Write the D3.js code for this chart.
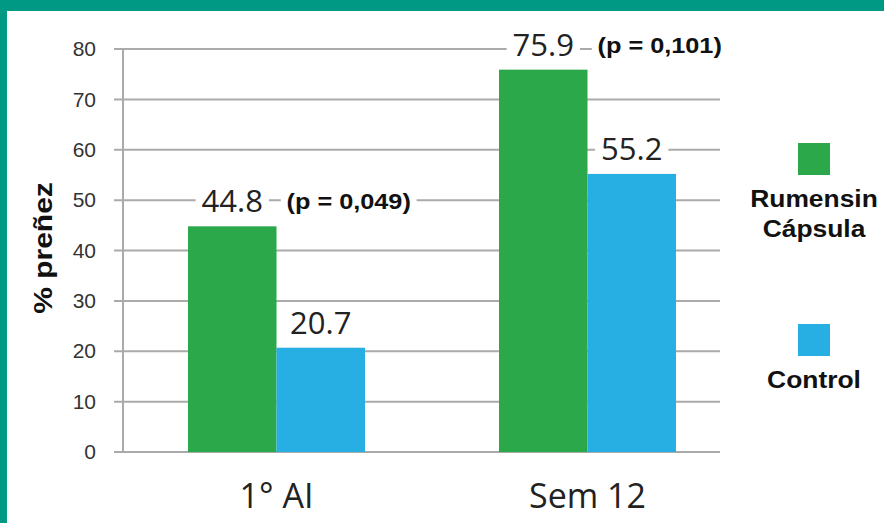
<!DOCTYPE html>
<html>
<head>
<meta charset="utf-8">
<script src="https://cdn.jsdelivr.net/npm/d3@7"></script>
<style>
  body { margin: 0; background: #fff; }
</style>
</head>
<body>
<div id="root"></div>
<script>
// datos
let groups = ["1° AI", "Sem 12"];
let seriesNames = ["Rumensin Cápsula", "Control"];
let rumensin = [44.8, 75.9];
let control = [20.7, 55.2];
let pValues = ["(p = 0,049)", "(p = 0,101)"];
let yTicks = [0, 10, 20, 30, 40, 50, 60, 70, 80];

let colors = ["#2aa84a", "#27aee3"];

let init = () => {
  let W = 884, H = 523;
  let svg = d3.select("#root").append("svg").attr("width", W).attr("height", H);

  // marco
  svg.append("rect").attr("width", W).attr("height", H).attr("fill", "#009a84");
  svg.append("rect").attr("x", 7).attr("y", 11).attr("width", W - 7).attr("height", H - 11).attr("fill", "#fff");

  let y = d3.scaleLinear().domain([0, 80]).range([452, 49]);
  let x0 = d3.scaleBand().domain(groups).range([123, 745]);
  let x1 = d3.scaleBand().domain(seriesNames).range([0, 177]);
  let groupOffset = 65;

  // texto estirado horizontalmente (como en la imagen original)
  let stretched = (parent, x, yPos, txt, size, sx, opts = {}) => {
    let g = parent.append("g").attr("transform", `translate(${x},${yPos}) scale(${sx},1)`);
    let t = g.append("text")
      .attr("text-anchor", opts.anchor || "middle")
      .attr("font-family", opts.family || "Arial, 'Liberation Sans'")
      .attr("font-weight", opts.weight || "bold")
      .attr("font-size", size).attr("fill", opts.fill || "#111").text(txt);
    return { g, t };
  };

  // grid
  let grid = svg.append("g");
  grid.selectAll("line").data(yTicks).join("line")
    .attr("x1", 114).attr("x2", 720)
    .attr("y1", d => y(d)).attr("y2", d => y(d))
    .attr("stroke", "#aaa").attr("stroke-width", 2);
  svg.append("line").attr("x1", 123).attr("x2", 123).attr("y1", y(80)).attr("y2", y(0))
    .attr("stroke", "#aaa").attr("stroke-width", 2);

  let yAxis = d3.axisLeft(y).tickValues(yTicks).tickSize(0).tickPadding(27);
  let yAxisG = svg.append("g").attr("transform", "translate(123,0)").call(yAxis);
  yAxisG.select(".domain").remove();
  yAxisG.selectAll("text").attr("font-family", "Arial, 'Liberation Sans'")
    .attr("font-size", 21).attr("fill", "#333");

  // barras
  let data = groups.map((g, i) => ({ g, vals: [rumensin[i], control[i]], p: pValues[i] }));
  let gx = g => x0(g) + groupOffset;
  let bars = svg.append("g").selectAll("g").data(data).join("g")
    .attr("transform", d => `translate(${gx(d.g)},0)`);
  bars.selectAll("rect").data(d => d.vals.map((v, j) => ({ v, s: seriesNames[j], j }))).join("rect")
    .attr("x", d => x1(d.s)).attr("width", x1.bandwidth())
    .attr("y", d => y(d.v)).attr("height", d => y(0) - y(d.v))
    .attr("fill", d => colors[d.j]);

  // etiquetas de valor con fondo blanco
  bars.selectAll("g.val").data(d => d.vals.map((v, j) => ({ v, s: seriesNames[j], j }))).join("g")
    .attr("class", "val")
    .each(function(d) {
      let g = d3.select(this);
      let cx = x1(d.s) + x1.bandwidth() / 2;
      let t = g.append("text").attr("x", cx).attr("y", y(d.v) - 14)
        .attr("text-anchor", "middle")
        .attr("font-family", "'Open Sans', sans-serif").attr("font-size", 31)
        .attr("fill", "#222").text(d.v.toFixed(1));
      let b = t.node().getBBox();
      g.insert("rect", "text").attr("x", b.x - 6).attr("y", b.y + 6).attr("width", b.width + 12)
        .attr("height", b.height - 10).attr("fill", "#fff");
    });

  // valores p
  bars.append("g").each(function(d) {
    let g = d3.select(this);
    let s = stretched(g, x1.bandwidth() + 10, y(d.vals[0]) - 17, d.p, 22, 1.15, { anchor: "start" });
    let b = s.t.node().getBBox();
    s.g.insert("rect", "text").attr("x", b.x - 5).attr("y", b.y).attr("width", b.width + 10)
      .attr("height", b.height).attr("fill", "#fff");
  });

  // eje x
  svg.append("g").selectAll("text").data(groups).join("text")
    .attr("x", d => gx(d) + x1.bandwidth()).attr("y", 508)
    .attr("text-anchor", "middle")
    .attr("font-family", "'Open Sans', sans-serif").attr("font-size", 34)
    .attr("fill", "#222").text(d => d);

  // titulo eje y
  let yl = svg.append("g").attr("transform", "translate(52,248) rotate(-90) scale(1.2,1)");
  yl.append("text").attr("text-anchor", "middle")
    .attr("font-family", "Arial, 'Liberation Sans'").attr("font-weight", "bold")
    .attr("font-size", 25).attr("fill", "#111").text("% preñez");

  // leyenda
  let legend = svg.append("g");
  let legendY = [143, 324];
  seriesNames.forEach((s, i) => {
    legend.append("rect").attr("x", 798).attr("y", legendY[i]).attr("width", 32).attr("height", 32)
      .attr("fill", colors[i]);
    let lines = i === 0 ? ["Rumensin", "Cápsula"] : [s];
    lines.forEach((l, k) => {
      stretched(legend, 814, legendY[i] + 64 + k * 30, l, 24, 1.1);
    });
  });
};

window.onload = init;
</script>
</body>
</html>
